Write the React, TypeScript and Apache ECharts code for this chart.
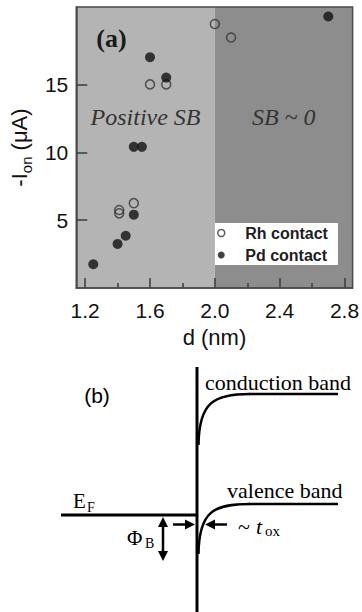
import React, { useEffect, useRef } from 'react';
import * as echarts from 'echarts';

// ---- data ----
const rhD = [1.41, 1.41, 1.5, 1.6, 1.7, 2.0, 2.1];
const rhI = [5.5, 5.75, 6.25, 15.0, 15.0, 19.45, 18.45];
const pdD = [1.25, 1.4, 1.45, 1.5, 1.5, 1.55, 1.6, 1.7, 2.7];
const pdI = [1.75, 3.25, 3.85, 5.4, 10.4, 10.4, 17.0, 15.5, 20.0];
const xTicks = [1.2, 1.6, 2.0, 2.4, 2.8];
const xMinorTicks = [1.4, 1.8, 2.2, 2.6];
const yTicks = [5, 10, 15];
const regionNames = ['Positive SB', 'SB ~ 0'];
const regionBounds = [1.145, 2.0, 2.85];
const seriesNames = ['Rh contact', 'Pd contact'];

const SANS = 'Liberation Sans';
const SERIF = 'Liberation Serif';
const regionColors = ['#b4b4b4', '#8d8d8d'];

function txt(text: string, x: number, y: number, size: number, opts: any = {}) {
  return {
    type: 'text',
    x,
    y,
    z: 100,
    silent: true,
    style: {
      text,
      fontSize: size,
      fontFamily: opts.family || SERIF,
      fontStyle: opts.italic ? 'italic' : 'normal',
      fontWeight: opts.bold ? 'bold' : 'normal',
      fill: opts.color || '#000',
      align: opts.align || 'left',
      verticalAlign: 'middle',
    },
  };
}

function seg(x1: number, y1: number, x2: number, y2: number, w: number) {
  return { type: 'line', z: 100, silent: true, shape: { x1, y1, x2, y2 }, style: { stroke: '#000', lineWidth: w } };
}

function tri(points: number[][]) {
  return { type: 'polygon', z: 100, silent: true, shape: { points }, style: { fill: '#000' } };
}

function curve(x1: number, y1: number, cx1: number, cy1: number, cx2: number, cy2: number, x2: number, y2: number) {
  return {
    type: 'bezierCurve',
    z: 100,
    silent: true,
    shape: { x1, y1, cpx1: cx1, cpy1: cy1, cpx2: cx2, cpy2: cy2, x2, y2 },
    style: { stroke: '#000', lineWidth: 2.5, fill: 'none' },
  };
}

export default function App() {
  const ref = useRef<HTMLDivElement>(null);
  useEffect(() => {
    if (!ref.current) return;
    const chart = echarts.init(ref.current, null, { renderer: 'svg' });
    const axisLineStyle = { color: '#4a4a4a', width: 1.5 };
    const tickStyle = { color: '#3a3a3a', width: 1.5 };

    const bandDiagram: any[] = [
      // vertical interface line
      seg(197, 367, 197, 612, 3),
      // conduction band
      curve(198.5, 445, 199, 402, 214, 394, 250, 394),
      seg(249, 394, 338, 394, 2.5),
      // valence band
      curve(198.5, 554, 199, 511, 214, 504, 250, 504),
      seg(249, 504, 338, 504, 2.5),
      // Fermi level
      seg(61, 515, 197, 515, 3),
      // double arrow (barrier height)
      seg(163, 524, 163, 554, 2.5),
      tri([[163, 517], [158, 527], [168, 527]]),
      tri([[163, 561], [158, 551], [168, 551]]),
      // right arrow
      seg(173, 524.5, 187, 524.5, 2.5),
      tri([[195, 524.5], [185, 519.5], [185, 529.5]]),
      // left arrow
      seg(213, 524.5, 227, 524.5, 2.5),
      tri([[205, 524.5], [215, 519.5], [215, 529.5]]),
      // texts
      txt('(b)', 97, 395, 21, { family: SANS, align: 'center' }),
      txt('conduction band', 205, 382, 22),
      txt('valence band', 227, 490, 22),
      txt('E', 73, 501, 21),
      txt('F', 87, 507, 14),
      txt('\u03A6', 127, 538, 21),
      txt('B', 145, 543, 14),
      txt('~', 238, 526, 22),
      txt('t', 256, 526, 22, { italic: true }),
      txt('ox', 265, 531, 15),
      // panel label (a)
      txt('(a)', 111.5, 38.5, 26, { bold: true, align: 'center', color: '#1a1a1a' }),
    ];

    const option: any = {
      animation: false,
      backgroundColor: '#ffffff',
      grid: {
        left: 73,
        top: 7,
        width: 280,
        height: 281,
        show: true,
        z: 10,
        borderColor: '#4a4a4a',
        borderWidth: 1.5,
        backgroundColor: 'transparent',
      },
      legend: {
        data: [
          { name: seriesNames[0], icon: 'circle', itemStyle: { color: '#ffffff', borderColor: '#333', borderWidth: 1.5 } },
          { name: seriesNames[1], icon: 'circle', itemStyle: { color: '#111111', borderWidth: 0 } },
        ],
        orient: 'vertical',
        left: 215,
        top: 223,
        padding: [1, 10, 1, 2],
        itemGap: 4,
        itemWidth: 38,
        itemHeight: 7,
        backgroundColor: '#ffffff',
        selectedMode: false,
        textStyle: { fontSize: 16, fontWeight: 'bold', fontFamily: SANS, color: '#1e1e1e', lineHeight: 18 },
      },
      xAxis: [
        {
          type: 'value',
          min: regionBounds[0],
          max: regionBounds[2],
          position: 'bottom',
          z: 5,
          axisLine: { show: true, lineStyle: axisLineStyle },
          axisTick: { show: true, inside: true, length: 10, customValues: xTicks, lineStyle: tickStyle },
          axisLabel: {
            customValues: xTicks,
            formatter: (v: number) => v.toFixed(1),
            fontSize: 21,
            fontFamily: SANS,
            color: '#111',
            margin: 12,
          },
          splitLine: { show: false },
          name: 'd (nm)',
          nameLocation: 'middle',
          nameGap: 38,
          nameTextStyle: { fontSize: 22, fontFamily: SANS, color: '#111' },
        },
        {
          type: 'value',
          min: regionBounds[0],
          max: regionBounds[2],
          position: 'bottom',
          z: 5,
          axisLine: { show: false },
          axisTick: { show: true, inside: true, length: 5, customValues: xMinorTicks, lineStyle: tickStyle },
          axisLabel: { show: false },
          splitLine: { show: false },
        },
      ],
      yAxis: [
        {
          type: 'value',
          min: 0,
          max: 20.7,
          z: 5,
          axisLine: { show: true, lineStyle: axisLineStyle },
          axisTick: { show: true, inside: true, length: 11, customValues: yTicks, lineStyle: tickStyle },
          axisLabel: { customValues: yTicks, fontSize: 21, fontFamily: SANS, color: '#111', margin: 8 },
          splitLine: { show: false },
          name: '{a|-I}{b|on}{a| (\u03BCA)}',
          nameLocation: 'middle',
          nameGap: 38,
          nameTextStyle: {
            fontSize: 22,
            fontFamily: SANS,
            color: '#111',
            rich: {
              a: { fontSize: 22, fontFamily: SANS, color: '#111', lineHeight: 30 },
              b: { fontSize: 15, fontFamily: SANS, color: '#111', lineHeight: 15, verticalAlign: 'bottom' },
            },
          },
        },
      ],
      series: [
        {
          type: 'scatter',
          name: 'background',
          data: [],
          z: 1,
          silent: true,
          markArea: {
            silent: true,
            label: {
              show: true,
              position: ['50%', 110],
              align: 'center',
              verticalAlign: 'middle',
              fontSize: 24,
              fontStyle: 'italic',
              fontFamily: SERIF,
              color: '#333',
            },
            data: regionNames.map((n, i) => [
              { name: n, xAxis: regionBounds[i], itemStyle: { color: regionColors[i], opacity: 1 } },
              { xAxis: regionBounds[i + 1] },
            ]),
          },
        },
        {
          type: 'scatter',
          name: seriesNames[0],
          z: 3,
          symbol: 'circle',
          symbolSize: 9,
          data: rhD.map((d, i) => [d, rhI[i]]),
          itemStyle: { color: 'rgba(0,0,0,0)', borderColor: '#333', borderWidth: 1.5 },
        },
        {
          type: 'scatter',
          name: seriesNames[1],
          z: 4,
          symbol: 'circle',
          symbolSize: 10,
          data: pdD.map((d, i) => [d, pdI[i]]),
          itemStyle: { color: '#111111' },
        },
      ],
      graphic: { elements: bandDiagram },
    };
    chart.setOption(option);
    return () => chart.dispose();
  }, []);
  return <div ref={ref} style={{ position: 'fixed', left: 0, top: 0, width: 362, height: 612 }} />;
}
